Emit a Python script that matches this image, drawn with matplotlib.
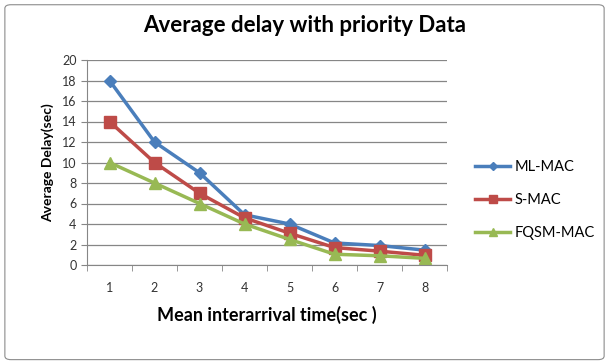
import matplotlib.pyplot as plt
import numpy as np
from matplotlib.patches import FancyBboxPatch

plt.rcParams["font.family"] = ["Lato", "DejaVu Sans"]

categories = [1, 2, 3, 4, 5, 6, 7, 8]
ml_mac = [18, 12, 9, 4.9, 4.0, 2.15, 1.9, 1.45]
s_mac = [14, 10, 7, 4.6, 3.1, 1.7, 1.35, 0.95]
fqsm_mac = [10, 8, 6, 4.0, 2.5, 1.05, 0.9, 0.65]

series = [
    ("ML-MAC", ml_mac, "#4a7ebb", "D", 6.5),
    ("S-MAC", s_mac, "#be4b48", "s", 8.5),
    ("FQSM-MAC", fqsm_mac, "#98b954", "^", 9),
]

fig = plt.figure(figsize=(6.09, 3.64), dpi=100)
fig.patches.append(FancyBboxPatch((0.008, 0.012), 0.984, 0.975,
                                  boxstyle="round,pad=0,rounding_size=0.01",
                                  transform=fig.transFigure, fill=False,
                                  edgecolor="#8c8c8c", linewidth=0.8))

ax = fig.add_axes([87 / 609, 1 - 265 / 364, 360 / 609, 205 / 364])
x = np.arange(len(categories))
for name, vals, color, marker, ms in series:
    ax.plot(x, vals, color=color, linewidth=2.5, marker=marker, markersize=ms,
            label=name)

ax.set_xlim(-0.5, len(categories) - 0.5)
ax.set_ylim(0, 20)
ax.set_yticks(np.arange(0, 21, 2))
ax.set_xticks(x)
ax.set_xticklabels([str(c) for c in categories])
ax.set_xticks(np.arange(-0.5, len(categories)), minor=True)
ax.tick_params(axis="x", which="major", length=0, pad=12, labelsize=9,
               colors="#333333")
ax.tick_params(axis="x", which="minor", length=4, color="#868686")
ax.tick_params(axis="y", length=4, color="#868686", labelsize=9,
               colors="#333333")
ax.grid(axis="y", color="#868686", linewidth=0.9)
ax.set_axisbelow(True)
for s in ["top", "right"]:
    ax.spines[s].set_visible(False)
for s in ["left", "bottom"]:
    ax.spines[s].set_color("#868686")

ax.set_ylabel("Average Delay(sec)", fontsize=10, fontweight="bold",
              labelpad=6)
ax.set_xlabel("Mean interarrival time(sec )", fontsize=13, fontweight="bold",
              labelpad=9)
fig.text(0.5, 1 - 25 / 364, "Average delay with priority Data", ha="center",
         va="center", fontsize=16, fontweight="bold")

ax.legend(loc="center left", bbox_to_anchor=(462 / 609, 1 - 200 / 364),
          bbox_transform=fig.transFigure, frameon=False, fontsize=10.5,
          handlelength=2.4, handletextpad=0.3, labelspacing=1.3,
          markerscale=0.6)

fig.savefig("out.png", dpi=100)
